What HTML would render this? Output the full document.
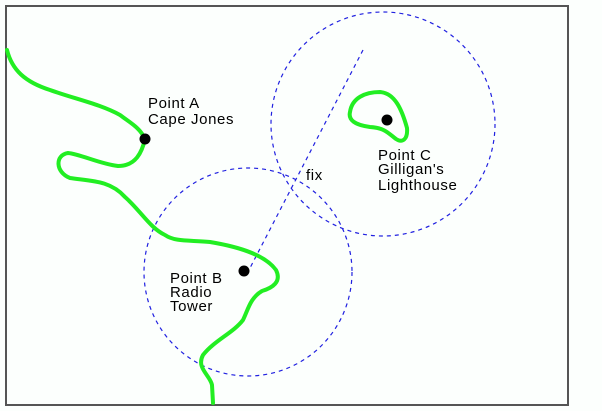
<!DOCTYPE html>
<html><head><style>body{margin:0;background:#fff}svg{display:block}text{font-family:"Liberation Sans",sans-serif;font-size:15px;letter-spacing:0.6px;fill:#000}</style></head>
<body><svg width="602" height="411" viewBox="0 0 602 411">
<rect width="602" height="411" fill="#fcfffd"/>
<rect x="6" y="6" width="562" height="399" fill="none" stroke="#555" stroke-width="2"/>
<g fill="none" stroke="#2020e0" stroke-width="1.2" stroke-dasharray="4,4">
<circle cx="248" cy="272" r="104"/>
<circle cx="383" cy="124" r="112"/>
<line x1="363" y1="50" x2="250" y2="268"/>
</g>
<g fill="none" stroke="#22ee22" stroke-width="4" stroke-linecap="round" stroke-linejoin="round">
<path d="M7,50 C12,70 25,82 50,90 C75,99 100,104 120,115 C132,124 140,128 145,139 C142,152 136,166 118,166 C100,164 80,154 68,153 C55,155 55,172 70,178 C90,181 110,180 125,197 C140,210 150,228 165,235 C175,242 190,240 210,242 C240,247 265,255 276,270 C282,282 272,288 262,291 C250,298 248,310 243,320 C233,333 215,340 203,355 C196,368 210,375 212,385 L213,403"/>
<path d="M350,112 C352,98 365,92 380,92 C395,93 402,110 407,128 C408,140 402,143 396,139 C388,133 385,128 370,127 C355,125 348,120 350,112 Z"/>
</g>
<g fill="#000">
<circle cx="145" cy="139" r="5.5"/>
<circle cx="244" cy="271" r="5.5"/>
<circle cx="387" cy="120" r="5.5"/>
</g>
<text x="148" y="108">Point A</text>
<text x="148" y="124">Cape Jones</text>
<text x="170" y="283">Point B</text>
<text x="170" y="297">Radio</text>
<text x="170" y="311">Tower</text>
<text x="378" y="160">Point C</text>
<text x="378" y="174">Gilligan's</text>
<text x="378" y="190">Lighthouse</text>
<text x="306" y="180">fix</text>
</svg></body></html>
